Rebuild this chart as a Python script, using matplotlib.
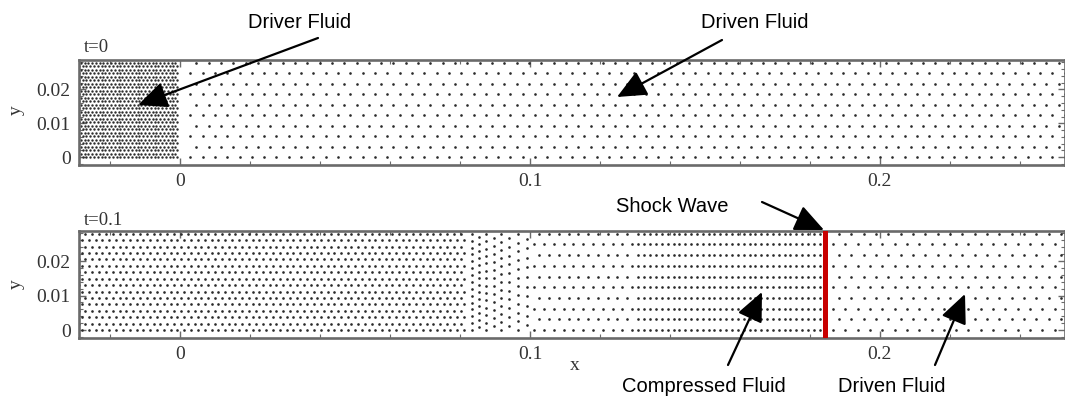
import numpy as np
import matplotlib
matplotlib.use("Agg")
import matplotlib.pyplot as plt
from matplotlib.ticker import MultipleLocator, FuncFormatter, FixedLocator

# ---------------- data ----------------
tube_height = 0.0279           # y of the top particle row
x_range = [-0.0289, 0.2529]
y_range = [-0.0023, 0.0287]
x_major = [0.0, 0.1, 0.2]
y_major = [0.0, 0.01, 0.02]

# t = 0 : driver (dense) and driven (sparse) lattices
t0_driver_bounds = [-0.0300, -0.0003]
t0_driver_dx = 0.00108
t0_driver_rows = 28
t0_driven_bounds = [0.0029, 0.2600]
t0_driven_dx = 0.00352
t0_driven_rows = 10

# t = 0.1 : undisturbed driver, rarefaction fan, expanded driver,
#           compressed driven fluid, undisturbed driven fluid
t1_driver_bounds = [-0.0300, 0.0815]
t1_driver_dx = 0.00195
t1_driver_rows = 16
fan_cols_x = [0.0833, 0.0853, 0.0874, 0.0896, 0.0918, 0.0941, 0.0965, 0.0990]
fan_cols_rows = [15, 15, 14, 13, 13, 12, 12, 11]
t1_expanded_bounds = [0.1012, 0.1300]
t1_expanded_dx = 0.0028
t1_expanded_rows = 10
t1_compressed_bounds = [0.1310, 0.1836]
t1_compressed_dx = 0.00167
t1_compressed_rows = 10
t1_driven_bounds = [0.1866, 0.2600]
t1_driven_dx = 0.00352
t1_driven_rows = 10
shock_x = 0.1843

# ---------------- helpers ----------------
def lattice(bounds, dx, nrows, hexagonal=True):
    xs, ys = [], []
    for j in range(nrows):
        y = tube_height * j / (nrows - 1)
        off = (dx / 2.0) if (hexagonal and j % 2 == 1) else 0.0
        row = np.arange(bounds[0] + off, bounds[1], dx)
        xs.extend(row)
        ys.extend([y] * len(row))
    return np.array(xs), np.array(ys)

def column_set(cols_x, cols_rows):
    xs, ys = [], []
    for k, (cx, nr) in enumerate(zip(cols_x, cols_rows)):
        dy = tube_height / (nr - 1)
        off = 0.5 * dy if k % 2 == 1 else 0.0
        for j in range(nr):
            yy = dy * j + off
            if yy <= tube_height + 1e-9:
                xs.append(cx)
                ys.append(yy)
    return np.array(xs), np.array(ys)

W, H = 1065, 401
fig = plt.figure(figsize=(W / 100, H / 100), dpi=100)

serif = ["Liberation Serif", "DejaVu Serif"]
sans = ["Liberation Sans", "DejaVu Sans"]
spine_col = "#6a6a6a"
dot_col = "#2a2a2a"
lab_col = "#333333"

def style_axes(ax):
    ax.set_xlim(*x_range)
    ax.set_ylim(*y_range)
    ax.xaxis.set_major_locator(FixedLocator(x_major))
    ax.yaxis.set_major_locator(FixedLocator(y_major))
    ax.xaxis.set_minor_locator(MultipleLocator(0.02))
    ax.yaxis.set_minor_locator(MultipleLocator(0.002))
    fmt = FuncFormatter(lambda v, p: "0" if abs(v) < 1e-12 else ("%g" % v))
    ax.xaxis.set_major_formatter(fmt)
    ax.yaxis.set_major_formatter(fmt)
    ax.tick_params(which="both", direction="in", top=True, right=True,
                   color=spine_col, labelcolor=lab_col)
    ax.tick_params(which="major", length=5, width=1.0, labelsize=14, pad=6)
    ax.tick_params(which="minor", length=3, width=0.8)
    for lab in ax.get_xticklabels() + ax.get_yticklabels():
        lab.set_family(serif)
    for s in ax.spines.values():
        s.set_color(spine_col)
        s.set_linewidth(1.9)
    ax.patch.set_alpha(0.0)

ax1 = fig.add_axes([79 / W, (H - 165) / H, 1 - 79 / W, 105 / H])
ax2 = fig.add_axes([79 / W, (H - 338) / H, 1 - 79 / W, 107 / H])

ms = 1.9
x, y = lattice(t0_driver_bounds, t0_driver_dx, t0_driver_rows)
ax1.plot(x, y, "o", ms=1.75, color="#2e2e2e", mec="none")
x, y = lattice(t0_driven_bounds, t0_driven_dx, t0_driven_rows)
ax1.plot(x, y, "o", ms=ms, color=dot_col, mec="none")

for b, dx, nr, hx in [(t1_driver_bounds, t1_driver_dx, t1_driver_rows, True),
                      (t1_expanded_bounds, t1_expanded_dx, t1_expanded_rows, True),
                      (t1_compressed_bounds, t1_compressed_dx, t1_compressed_rows, False),
                      (t1_driven_bounds, t1_driven_dx, t1_driven_rows, True)]:
    x, y = lattice(b, dx, nr, hx)
    ax2.plot(x, y, "o", ms=ms, color=dot_col, mec="none")
fx, fy = column_set(fan_cols_x, fan_cols_rows)
ax2.plot(fx, fy, "o", ms=ms, color=dot_col, mec="none")

ax2.axvline(shock_x, color="#c80000", lw=3.6, zorder=5)

style_axes(ax1)
style_axes(ax2)

# overlay for texts and arrows
ov = fig.add_axes([0, 0, 1, 1])
ov.set_xlim(0, W)
ov.set_ylim(H, 0)
ov.axis("off")
ov.patch.set_alpha(0.0)

ov.text(84, 52, "t=0", family=serif, fontsize=13.5, color=lab_col, va="baseline")
ov.text(84, 225, "t=0.1", family=serif, fontsize=13.5, color=lab_col, va="baseline")
ov.text(16, 110, "y", family=serif, fontsize=14, color=lab_col,
        rotation=90, ha="center", va="center")
ov.text(16, 284, "y", family=serif, fontsize=14, color=lab_col,
        rotation=90, ha="center", va="center")
ov.text(575, 366, "x", family=serif, fontsize=14, color=lab_col,
        ha="center", va="center")

labels = [("Driver Fluid", 300, 22), ("Driven Fluid", 755, 22),
          ("Shock Wave", 672, 206), ("Compressed Fluid", 704, 386),
          ("Driven Fluid", 892, 386)]
for txt, cx, cy in labels:
    ov.text(cx, cy, txt, family=sans, fontsize=14.5, color="black",
            ha="center", va="center")

arrows = [((318, 38), (138, 105)), ((722, 40), (617, 97)),
          ((762, 202), (824, 230)), ((728, 365), (762, 292)),
          ((935, 365), (965, 294))]
for (tx, ty), (hx, hy) in arrows:
    ov.annotate("", xy=(hx, hy), xytext=(tx, ty),
                annotation_clip=False,
                arrowprops=dict(arrowstyle="-|>,head_length=1.0,head_width=0.45",
                                lw=1.6, color="black", mutation_scale=18,
                                shrinkA=0, shrinkB=0))

fig.savefig("out.png", dpi=100)
